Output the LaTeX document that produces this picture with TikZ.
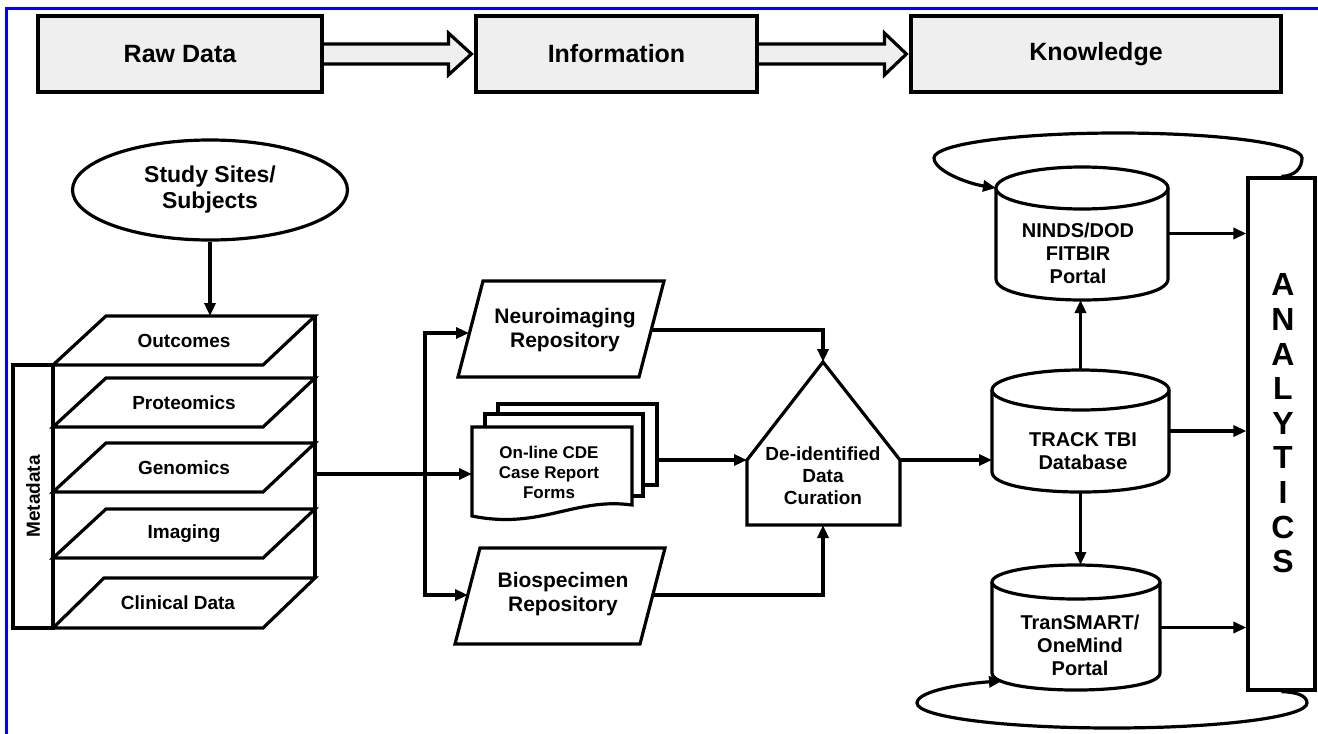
\documentclass[tikz,border=0pt]{standalone}
\usepackage{fontspec}
\setmainfont{Liberation Sans}
\usetikzlibrary{arrows.meta,shapes.geometric,calc}
\pgfdeclarelayer{background}
\pgfsetlayers{background,main}
\definecolor{boxgray}{HTML}{EFEFEF}
\definecolor{frameblue}{HTML}{0000FF}
\begin{document}
\begin{tikzpicture}[x=1pt,y=-1pt,
  ln/.style={line width=3.2pt, line join=miter},
  arr/.style={ln, -{Triangle[length=13pt,width=11pt]}},
  topbox/.style={draw, ln, fill=boxgray, minimum height=76pt, inner sep=0pt,
    font=\fontsize{25}{30}\selectfont\bfseries},
  lbl/.style={font=\fontsize{19}{22}\selectfont\bfseries, inner sep=0pt},
  repotxt/.style={align=center, font=\fontsize{21}{24}\selectfont\bfseries, inner sep=0pt},
  cdetxt/.style={align=center, font=\fontsize{17}{20}\selectfont\bfseries, inner sep=0pt},
  curtxt/.style={align=center, font=\fontsize{19}{22}\selectfont\bfseries, inner sep=0pt},
  cyltxt/.style={align=center, font=\fontsize{20}{23}\selectfont\bfseries, inner sep=0pt},
  cylbox/.style={inner sep=0pt, outer sep=0pt},
  shapefill/.style={ln, fill=white}]

\useasboundingbox (0,0) rectangle (1318,734);

% ---------- top row ----------
\node[topbox, minimum width=284pt] (raw) at (180,54) {Raw Data};
\node[topbox, minimum width=281pt] (info) at (616.5,54) {Information};
\node[topbox, minimum width=370pt] (know) at (1096,54) {Knowledge};

\begin{pgfonlayer}{background}
\fill[white] (0,0) rectangle (1318,734);
\draw[ln, fill=boxgray] ($(raw.east)+(-2,-10)$) -- ($(info.west)+(-26,-10)$) -- ($(info.west)+(-26,-21)$)
  -- ($(info.west)+(-3,0)$) -- ($(info.west)+(-26,21)$) -- ($(info.west)+(-26,10)$) -- ($(raw.east)+(-2,10)$);
\draw[ln, fill=boxgray] ($(info.east)+(-2,-10)$) -- ($(know.west)+(-25,-10)$) -- ($(know.west)+(-25,-21)$)
  -- ($(know.west)+(-3,0)$) -- ($(know.west)+(-25,21)$) -- ($(know.west)+(-25,10)$) -- ($(info.east)+(-2,10)$);
\end{pgfonlayer}
\draw[frameblue, line width=3pt] (6,734) -- (6,8) -- (1318,8);

% ---------- study sites ----------
\node[draw, ln, ellipse, minimum width=275pt, minimum height=100pt, inner sep=0pt, align=center,
  font=\fontsize{23}{26}\selectfont\bfseries] (study) at (210,190) {Study Sites/\\Subjects};

% ---------- metadata stack ----------
\node[draw, ln, rotate=90, minimum width=263pt, minimum height=40pt, inner sep=0pt,
  font=\fontsize{19}{22}\selectfont\bfseries] (meta) at (33,496.5) {Metadata};
\draw[ln] (315,316) -- (315,578);
\draw[shapefill] (106,316) -- (315,316) -- (263,365) -- (53,365) -- cycle;
\draw[shapefill] (106,378) -- (315,378) -- (263,427) -- (53,427) -- cycle;
\draw[shapefill] (106,443) -- (315,443) -- (263,492) -- (53,492) -- cycle;
\draw[shapefill] (106,509) -- (315,509) -- (263,558) -- (53,558) -- cycle;
\draw[shapefill] (104,578) -- (315,578) -- (263,628) -- (53,628) -- cycle;
\node[lbl] (outc) at (184,341) {Outcomes};
\node[lbl] (prot) at (184,403) {Proteomics};
\node[lbl] (geno) at (184,468) {Genomics};
\node[lbl] (imag) at (184,534) {Imaging};
\node[lbl] (clin) at (178,603) {Clinical Data};
\coordinate (stacktop) at (210,316);
\coordinate (stackout) at (315,474);
\coordinate (bus) at (425,474);

% ---------- repositories ----------
\draw[shapefill] (483,281) -- (664,281) -- (639,377) -- (458,377) -- cycle;
\node[repotxt] (neuro) at (565,330) {Neuroimaging\\Repository};
\coordinate (neuroin) at (469,333);
\coordinate (neuroout) at (651,330);

\draw[shapefill] (480,548) -- (665,548) -- (640,644) -- (455,644) -- cycle;
\node[repotxt] (bio) at (563,594) {Biospecimen\\Repository};
\coordinate (bioin) at (468,595);
\coordinate (bioout) at (653,595);

% ---------- CDE forms ----------
\draw[shapefill] (498,404) rectangle (657,485);
\draw[shapefill] (485,414) rectangle (643,496);
\draw[shapefill] (472,427) -- (632,427) -- (632,505) .. controls (575,497) and (540,530) .. (472,516) -- cycle;
\node[cdetxt] (cde) at (549,472) {On-line CDE\\Case Report\\Forms};
\coordinate (cdein) at (472,474);
\coordinate (cdeout) at (657,460);

% ---------- curation ----------
\draw[shapefill] (823,362) -- (900,460) -- (900,525) -- (747,525) -- (747,460) -- cycle;
\node[curtxt] (cur) at (823,476) {De-identified\\Data\\Curation};
\coordinate (curtop) at (823,362);
\coordinate (curleft) at (747,460);
\coordinate (curright) at (900,460);
\coordinate (curbot) at (823,525);

% ---------- cylinders ----------
\node[cylbox, minimum width=172pt, minimum height=133pt] (ninds) at (1082,233.5) {};
\node[cylbox, minimum width=177pt, minimum height=122pt] (track) at (1080.5,431) {};
\node[cylbox, minimum width=168pt, minimum height=125pt] (transmart) at (1076,627.5) {};

\draw[shapefill] (996,188) -- (996,279) .. controls (996,307) and (1168,307) .. (1168,279) -- (1168,188);
\draw[shapefill] (1082,188) ellipse [x radius=86, y radius=21];
\draw[shapefill] (992,390) -- (992,472) .. controls (992,498.7) and (1169,498.7) .. (1169,472) -- (1169,390);
\draw[shapefill] (1080.5,390) ellipse [x radius=88.5, y radius=20];
\draw[shapefill] (992,582) -- (992,673) .. controls (992,695.7) and (1160,695.7) .. (1160,673) -- (1160,582);
\draw[shapefill] (1076,582) ellipse [x radius=84, y radius=17];

\node[cyltxt] (nindstxt) at (1078,253) {NINDS/DOD\\FITBIR\\Portal};
\node[cyltxt] (tracktxt) at (1083,451) {TRACK TBI\\Database};
\node[cyltxt] (transtxt) at (1080,645) {TranSMART/\\OneMind\\Portal};

% ---------- analytics ----------
\node[draw, ln, minimum width=67pt, minimum height=512pt, inner sep=0pt] (analytics) at (1281.5,434) {};
\node[align=center, inner sep=0pt, font=\fontsize{32}{34.6}\selectfont\bfseries] (analyticstxt) at (1283,423.5)
  {A\\N\\A\\L\\Y\\T\\I\\C\\S};

% ---------- connectors ----------
\draw[arr] (study.south) -- (stacktop);
\draw[ln] (stackout) -- (bus);
\draw[arr] (bus) -- (cdein);
\draw[arr] (bus) |- (neuroin);
\draw[arr] (bus) |- (bioin);
\draw[arr] (neuroout) -| (curtop);
\draw[arr] (cdeout) -- (curleft);
\draw[arr] (bioout) -| (curbot);
\draw[arr] (curright) -- (curright -| track.west);
\draw[arr] (track.north) -- (track.north |- ninds.south);
\draw[arr] (track.south) -- (track.south |- transmart.north);
\draw[arr] (ninds.east) -- (ninds.east -| analytics.west);
\draw[arr] (track.east) -- (track.east -| analytics.west);
\draw[arr] (transmart.east) -- (transmart.east -| analytics.west);

\draw[arr] (analytics.north) .. controls (1295,176) and (1302,168) .. (1302,158)
  .. controls (1302,144) and (1220,133) .. (1118,133)
  .. controls (1016,133) and (934,144) .. (934,158)
  .. controls (934,170) and (965,183) .. ($(ninds.north west)+(0,21)$);
\draw[arr] (analytics.south) .. controls (1295,692) and (1307,695) .. (1307,703)
  .. controls (1307,717) and (1220,728) .. (1112,728)
  .. controls (1004,728) and (917,717) .. (917,703)
  .. controls (917,690) and (970,683) .. (1002,681);
\end{tikzpicture}
\end{document}
